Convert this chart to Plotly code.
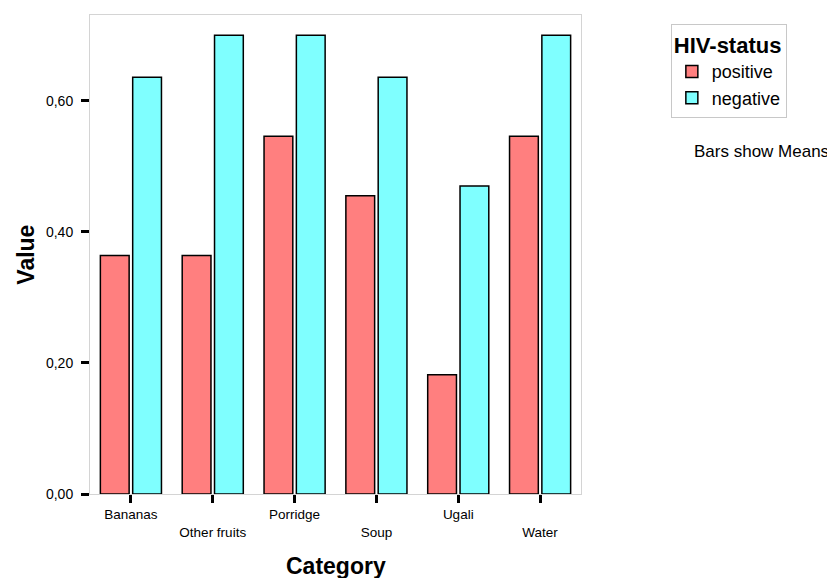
import plotly.graph_objects as go

categories = ["Bananas", "Other fruits", "Porridge", "Soup", "Ugali", "Water"]
positive = [0.364, 0.364, 0.546, 0.455, 0.182, 0.546]
negative = [0.636, 0.700, 0.700, 0.636, 0.470, 0.700]
series_names = ["positive", "negative"]
y_tickvals = [0.0, 0.2, 0.4, 0.6]
y_ticktext = ["0,00", "0,20", "0,40", "0,60"]

# staggered category labels (every second label on a second line)
x_ticktext = [c if i % 2 == 0 else "<br>" + c for i, c in enumerate(categories)]

fig = go.Figure()
fig.add_trace(go.Bar(x=categories, y=positive, name=series_names[0],
                     marker=dict(color="#FF7F7F", line=dict(color="black", width=1.5))))
fig.add_trace(go.Bar(x=categories, y=negative, name=series_names[1],
                     marker=dict(color="#7FFFFF", line=dict(color="black", width=1.5))))

font_family = "Liberation Sans, Arial, sans-serif"

fig.update_layout(
    width=827, height=570,
    margin=dict(l=82, r=254, t=7, b=84, autoexpand=False),
    paper_bgcolor="white", plot_bgcolor="white",
    barmode="group", bargap=0.21, bargroupgap=0.11,
    font=dict(family=font_family, color="black", size=12),
    showlegend=True,
    legend=dict(
        x=1.183, y=0.982, xanchor="left", yanchor="top",
        bordercolor="#c8c8c8", borderwidth=1, bgcolor="white",
        title=dict(text="<b>HIV-status</b>", font=dict(size=22, family=font_family)),
        font=dict(size=18, family=font_family),
        tracegroupgap=2, itemwidth=30,
    ),
    xaxis=dict(
        tickmode="array", tickvals=categories, ticktext=x_ticktext,
        ticks="outside", ticklen=8, tickwidth=3, tickcolor="black",
        tickfont=dict(size=13.5, family=font_family),
        showline=True, linecolor="#d4d4d4", linewidth=1, mirror=True,
        showgrid=False, range=[-0.5, 5.5],
    ),
    yaxis=dict(
        range=[0, 0.731], tickmode="array", tickvals=y_tickvals, ticktext=y_ticktext,
        ticks="outside", ticklen=8, tickwidth=3, tickcolor="black",
        tickfont=dict(size=14, family=font_family), ticklabelstandoff=5,
        showline=True, linecolor="#d4d4d4", linewidth=1, mirror=True,
        showgrid=False, zeroline=False,
    ),
    annotations=[
        dict(text="<b>Value</b>", xref="paper", yref="paper", x=-0.132, y=0.5,
             textangle=-90, showarrow=False, font=dict(size=23, family=font_family),
             xanchor="center", yanchor="middle"),
        dict(text="<b>Category</b>", xref="paper", yref="paper", x=0.5, y=-0.150,
             showarrow=False, font=dict(size=23, family=font_family),
             xanchor="center", yanchor="middle"),
        dict(text="Bars show Means", xref="paper", yref="paper", x=1.367, y=0.716,
             showarrow=False, font=dict(size=17, family=font_family),
             xanchor="center", yanchor="middle"),
    ],
)

fig.write_html("out.html")
